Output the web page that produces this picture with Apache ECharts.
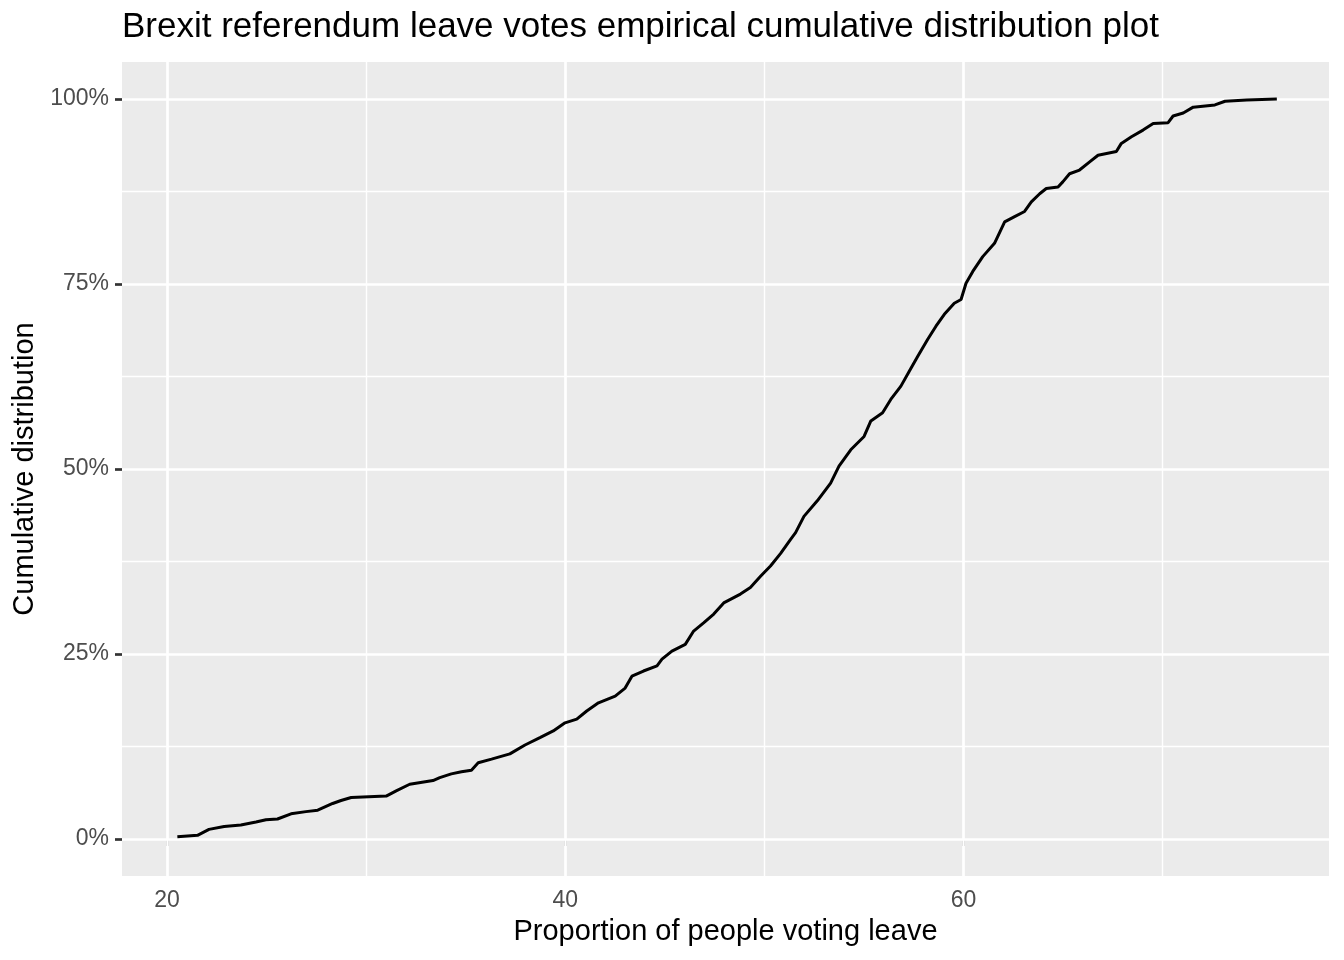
<!DOCTYPE html>
<html>
<head>
<meta charset="utf-8">
<script src="https://cdn.jsdelivr.net/npm/echarts@6/dist/echarts.min.js"></script>
<style>
  html, body { margin: 0; padding: 0; background: #fff; }
  #chart { width: 1344px; height: 960px; }
</style>
</head>
<body>
<div id="chart"></div>
<script>
// share of leave votes (x) and empirical cumulative share (y)
var leaveShare = [20.52, 21.53, 22.11, 22.87, 23.71, 24.47, 24.97, 25.55, 26.23, 26.98,
	27.57, 28.32, 28.74, 29.25, 31.01, 31.51, 32.19, 33.36, 33.70, 34.28,
	34.79, 35.29, 35.63, 36.30, 37.22, 37.98, 38.73, 39.40, 39.99, 40.58,
	41.08, 41.67, 42.51, 43.01, 43.35, 43.93, 44.61, 44.86, 45.36, 46.03,
	46.45, 46.95, 47.46, 47.96, 48.80, 49.30, 49.81, 50.31, 50.82, 51.32,
	51.57, 51.99, 52.66, 53.33, 53.75, 54.34, 55.01, 55.35, 55.94, 56.35,
	56.86, 57.28, 57.70, 58.20, 58.62, 59.04, 59.54, 59.88, 60.13, 60.47,
	60.97, 61.56, 62.07, 62.57, 63.07, 63.41, 63.83, 64.16, 64.75, 64.99,
	65.33, 65.83, 66.34, 66.76, 67.68, 67.93, 68.44, 69.02, 69.53, 70.28,
	70.53, 71.04, 71.54, 72.63, 73.14, 74.23, 75.74];
var cumShare = [0.003, 0.005, 0.013, 0.017, 0.019, 0.023, 0.026, 0.027, 0.034, 0.037,
	0.039, 0.048, 0.052, 0.056, 0.058, 0.065, 0.074, 0.079, 0.083, 0.088,
	0.091, 0.093, 0.103, 0.108, 0.115, 0.127, 0.137, 0.146, 0.157, 0.162,
	0.173, 0.184, 0.193, 0.204, 0.220, 0.227, 0.234, 0.243, 0.254, 0.263,
	0.281, 0.292, 0.304, 0.319, 0.331, 0.340, 0.355, 0.369, 0.386, 0.405,
	0.414, 0.436, 0.457, 0.481, 0.504, 0.526, 0.544, 0.565, 0.576, 0.594,
	0.612, 0.632, 0.652, 0.675, 0.693, 0.709, 0.724, 0.729, 0.751, 0.767,
	0.787, 0.805, 0.834, 0.841, 0.848, 0.861, 0.872, 0.879, 0.881, 0.888,
	0.899, 0.904, 0.915, 0.924, 0.929, 0.940, 0.949, 0.958, 0.967, 0.968,
	0.977, 0.981, 0.989, 0.992, 0.997, 0.9987, 1.0];

var xMajor = [20, 40, 60];
var xMinor = [30, 50, 70];
var yMajor = [0, 0.25, 0.5, 0.75, 1];
var yMinor = [0.125, 0.375, 0.625, 0.875];

var X_MIN = 17.74, X_MAX = 78.36;
var Y_MIN = -0.05, Y_MAX = 1.05;

var FONT = 'Liberation Sans, Arial, Helvetica, sans-serif';

// panel grid lines drawn as mark lines spanning the whole panel
var gridLines = [];
function vLine(v, w) {
	gridLines.push([{ coord: [v, Y_MIN], lineStyle: { width: w } }, { coord: [v, Y_MAX] }]);
}
function hLine(v, w) {
	gridLines.push([{ coord: [X_MIN, v], lineStyle: { width: w } }, { coord: [X_MAX, v] }]);
}
xMinor.forEach(function(v) { vLine(v, 1.4); });
yMinor.forEach(function(v) { hLine(v, 1.4); });
xMajor.forEach(function(v) { vLine(v, 2.7); });
yMajor.forEach(function(v) { hLine(v, 2.7); });

var points = leaveShare.map(function(x, i) { return [x, cumShare[i]]; });

var myChart = echarts.init(document.getElementById('chart'));
var option = {
	animation: false,
	backgroundColor: '#ffffff',
	textStyle: { fontFamily: FONT },
	title: {
		text: 'Brexit referendum leave votes empirical cumulative distribution plot',
		left: 117,
		top: 5,
		textStyle: { fontFamily: FONT, fontSize: 35, fontWeight: 'normal', color: '#000' }
	},
	grid: {
		left: 122,
		right: 15,
		top: 62,
		bottom: 84,
		show: true,
		backgroundColor: '#EBEBEB',
		borderWidth: 0
	},
	xAxis: {
		type: 'value',
		min: X_MIN,
		max: X_MAX,
		name: 'Proportion of people voting leave',
		nameLocation: 'middle',
		nameGap: 41,
		nameTextStyle: { fontFamily: FONT, fontSize: 29, color: '#000', verticalAlign: 'top' },
		axisLine: { show: false },
		axisTick: { show: true, customValues: xMajor, length: 7, lineStyle: { color: '#333333', width: 2.7 } },
		axisLabel: { customValues: xMajor, margin: 13, fontSize: 23, color: '#4D4D4D', fontFamily: FONT },
		splitLine: { show: false }
	},
	yAxis: {
		type: 'value',
		min: Y_MIN,
		max: Y_MAX,
		name: 'Cumulative distribution',
		nameLocation: 'middle',
		nameRotate: 90,
		nameGap: 76,
		nameTextStyle: { fontFamily: FONT, fontSize: 29, color: '#000' },
		axisLine: { show: false },
		axisTick: { show: true, customValues: yMajor, length: 7, lineStyle: { color: '#333333', width: 2.7 } },
		axisLabel: {
			customValues: yMajor,
			margin: 13,
			fontSize: 23,
			color: '#4D4D4D',
			fontFamily: FONT,
			formatter: function(v) { return Math.round(v * 100) + '%'; }
		},
		splitLine: { show: false }
	},
	series: [{
		name: 'grid',
		type: 'line',
		data: [],
		z: 1,
		silent: true,
		markLine: {
			silent: true,
			z: 1,
			symbol: ['none', 'none'],
			label: { show: false },
			lineStyle: { color: '#ffffff', type: 'solid' },
			emphasis: { disabled: true },
			data: gridLines
		}
	}, {
		name: 'ecdf',
		type: 'line',
		data: points,
		z: 10,
		showSymbol: false,
		lineStyle: { color: '#000000', width: 3 }
	}]
};
myChart.setOption(option);
</script>
</body>
</html>
